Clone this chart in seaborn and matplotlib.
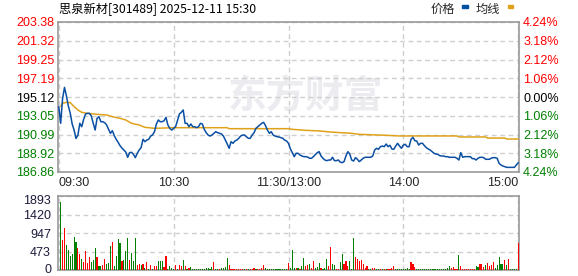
import matplotlib
matplotlib.use('Agg')
import matplotlib.pyplot as plt
from matplotlib.patches import Rectangle
from matplotlib.transforms import ScaledTranslation
import seaborn as sns
import pandas as pd

sns.set_theme(style='white')
plt.rcParams['font.family'] = ['Liberation Sans', 'Noto Sans CJK SC', 'DejaVu Sans']

# ---------------- data ----------------
title = '思泉新材[301489] 2025-12-11 15:30'
legend_labels = ['价格', '均线']
watermark = '东方财富'
price_ticks = [186.86, 188.92, 190.99, 193.05, 195.12, 197.19, 199.25, 201.32, 203.38]
pct_labels = ['4.24%', '3.18%', '2.12%', '1.06%', '0.00%', '1.06%', '2.12%', '3.18%', '4.24%']
vol_ticks = [0, 473, 947, 1420, 1893]
time_pos = [0, 60, 120, 180, 240]
time_labels = ['09:30', '10:30', '11:30/13:00', '14:00', '15:00']

price = [
    194.06, 192.22, 194.97, 196.18, 195.23, 194.13, 193.32, 192.15, 191.48, 190.55,
    190.93, 192.22, 191.85, 192.66, 193.25, 193.32, 193.32, 193.03, 192.22, 191.48,
    192.77, 192.95, 192.40, 192.40, 192.29, 192.04, 191.56, 191.12, 191.41, 190.86,
    190.46, 190.13, 189.76, 189.50, 189.28, 189.06, 188.48, 188.99, 189.03, 188.81,
    188.44, 188.92, 189.28, 189.54, 190.46, 190.20, 190.38, 190.46, 190.82, 190.95,
    191.30, 192.15, 192.59, 192.40, 192.40, 192.51, 192.88, 192.04, 191.67, 191.48,
    191.67, 191.85, 192.51, 193.25, 193.43, 193.69, 192.22, 192.22, 191.85, 192.15,
    191.85, 191.85, 191.74, 191.85, 192.22, 192.15, 191.56, 191.19, 190.93, 190.82,
    190.93, 191.12, 191.30, 191.19, 191.12, 191.05, 190.82, 190.38, 189.94, 189.47,
    190.20, 190.02, 190.27, 190.38, 190.57, 190.82, 190.93, 190.93, 190.75, 190.57,
    190.57, 190.93, 191.19, 191.67, 191.85, 192.04, 192.22, 192.33, 191.96, 191.48,
    191.12, 191.30, 190.93, 190.82, 190.75, 190.72, 190.64, 190.57, 190.38, 190.27,
    190.02, 189.39, 188.99, 188.55, 188.92, 188.92, 188.73, 188.62, 188.55, 188.55,
    188.51, 188.37, 188.37, 188.55, 188.77, 188.99, 189.10, 188.62, 188.37, 188.18,
    188.11, 188.18, 188.18, 188.48, 188.11, 188.11, 188.18, 187.96, 187.89, 188.00,
    188.62, 189.10, 188.84, 188.18, 188.07, 188.44, 188.26, 188.00, 188.18, 188.37,
    188.48, 188.48, 188.48, 188.48, 188.62, 189.28, 189.47, 189.36, 189.65, 189.72,
    189.65, 189.94, 189.65, 189.80, 189.39, 189.36, 189.72, 190.02, 189.72, 189.47,
    189.83, 189.91, 189.65, 189.65, 190.46, 190.68, 190.31, 190.27, 189.83, 190.02,
    190.02, 189.76, 189.54, 189.39, 189.28, 189.10, 188.92, 188.84, 188.81, 188.66,
    188.62, 188.62, 188.55, 188.55, 188.48, 188.48, 188.48, 188.48, 188.37, 188.18,
    188.99, 188.48, 188.55, 188.55, 188.55, 188.55, 188.33, 188.33, 188.18, 188.37,
    188.48, 188.48, 188.44, 188.26, 188.26, 188.26, 188.40, 188.44, 188.44, 188.37,
    187.81, 187.63, 187.52, 187.44, 187.37, 187.37, 187.37, 187.37, 187.37, 187.63,
    187.89,
]
price_minutes = list(range(len(price)))

avg_minutes = [1, 2, 4, 6, 8, 10, 12, 15, 20, 25, 28, 32, 35, 38, 42, 45, 50, 60, 88, 89,
               120, 122, 129, 136, 142, 153, 157, 171, 178, 208, 209, 223, 224, 233, 234, 240]
avg_values = [194.06, 194.42, 194.53, 194.50, 194.06, 193.69, 193.43, 193.32, 193.21, 193.14,
              192.95, 192.77, 192.59, 192.22, 192.04, 191.78, 191.67, 191.74, 191.74, 191.63,
              191.63, 191.56, 191.45, 191.38, 191.26, 191.12, 191.01, 190.90, 190.83, 190.83,
              190.72, 190.72, 190.60, 190.60, 190.49, 190.49]

volume = [
    1740, 767, 1083, 640, 512, 367, 418, 844, 716, 563,
    409, 281, 213, 486, 188, 333, 213, 256, 563, 333,
    102, 102, 128, 281, 153, 179, 622, 716, 102, 358,
    793, 691, 230, 256, 486, 819, 256, 435, 230, 819,
    128, 153, 128, 153, 51, 205, 26, 128, 26, 102,
    102, 230, 230, 230, 77, 358, 43, 102, 68, 26,
    128, 26, 128, 110, 256, 102, 26, 51, 77, 26,
    26, 26, 34, 26, 26, 26, 51, 51, 26, 77,
    205, 26, 26, 26, 51, 51, 77, 307, 128, 26,
    26, 26, 26, 26, 26, 26, 26, 26, 26, 26,
    26, 51, 26, 26, 26, 51, 128, 51, 26, 26,
    26, 26, 26, 26, 26, 26, 26, 26, 26, 179,
    51, 512, 68, 68, 51, 26, 110, 307, 102, 128,
    153, 51, 230, 51, 85, 179, 51, 26, 51, 281,
    110, 590, 155, 128, 26, 26, 205, 410, 155, 235,
    110, 235, 26, 820, 335, 285, 238, 260, 155, 60,
    110, 26, 26, 60, 60, 26, 26, 26, 26, 26,
    26, 26, 26, 51, 110, 26, 26, 26, 26, 26,
    26, 51, 26, 205, 153, 77, 26, 26, 26, 26,
    26, 26, 26, 26, 26, 26, 26, 26, 26, 26,
    26, 26, 51, 102, 68, 77, 26, 26, 384, 102,
    26, 26, 26, 26, 26, 26, 26, 102, 77, 153,
    153, 77, 128, 179, 102, 128, 205, 51, 128, 333,
    153, 153, 256, 128, 281, 26, 26, 26, 26, 691,
]
vol_dir = list(
    "GRRGGGGGGR" "RGRRRRGGGR" "GGRRGGGRGG" "GGRGGGRGGG" "RRGRGRGRGR" "RGGGRRGGGG"
    "RGRRGRGRGG" "GGGGGGGGGG" "RGGRGGGGRR" "RRRRRRGRGR" "RRGRRRRGGG" "GGGGGGGGGR"
    "GGGRGRGGRR" "GRRGGGRGGG" "RRGGRRGGRR" "RGGGRRRRRR" "RGGRRGGRGR" "GRRRRGGGGG"
    "GGGRRRGGGG" "GGGGGGGGGG" "GGGGRRRRGR" "RRRRRRRGGR" "RRGRRRRGGG" "GGRGRGGGGR"
)
vol_minutes = list(range(1, len(volume) + 1))

# ---------------- style ----------------
RED = '#ff0000'
GREEN = '#008000'
BLUE = '#0a4fa3'
GOLD = '#e0a21a'
GRID = '#cfcfcf'
SPINE = '#999999'

W, H = 578, 276
fig = plt.figure(figsize=(W / 100, H / 100), dpi=100)
fig.patch.set_facecolor('white')

def fx(px):
    return px / W

def fy(py):
    return 1 - py / H

ax = fig.add_axes([fx(58), fy(172), fx(519) - fx(58), fy(22) - fy(172)])
axv = fig.add_axes([fx(58), fy(270.3), fx(519) - fx(58), fy(196) - fy(270.3)])

xmin, xmax = -0.4, 240.4

# watermark
ax.text(0.537, 0.5, watermark, transform=ax.transAxes, fontsize=28, fontweight='bold',
        color='#ececf0', ha='center', va='center', zorder=0,
        family=['Noto Sans CJK SC'])

df_price = pd.DataFrame({'minute': price_minutes, 'price': price})
df_avg = pd.DataFrame({'minute': avg_minutes, 'avg': avg_values})
sns.lineplot(data=df_avg, x='minute', y='avg', ax=ax, color=GOLD, linewidth=1.1,
             estimator=None, zorder=3)
sns.lineplot(data=df_price, x='minute', y='price', ax=ax, color=BLUE, linewidth=1.1,
             estimator=None, zorder=4)

ax.set_xlim(xmin, xmax)
ax.set_ylim(price_ticks[0], price_ticks[-1])
ax.set_yticks(price_ticks)
ax.set_yticklabels([f'{v:.2f}' for v in price_ticks])
ax.set_xticks(time_pos)
ax.set_xticklabels(time_labels)
ax.set_xlabel('')
ax.set_ylabel('')
ax.tick_params(axis='both', length=0, labelsize=9)
ax.tick_params(axis='y', pad=2.5)
ax.tick_params(axis='x', pad=3.5)
ax.grid(True, color=GRID, linestyle=(0, (3.5, 2.5)), linewidth=1)
for sp in ax.spines.values():
    sp.set_color(SPINE)
    sp.set_linewidth(1.2)

mid = 4
for i, lab in enumerate(ax.get_yticklabels()):
    lab.set_color(RED if i > mid else ('#000000' if i == mid else GREEN))
xl = ax.get_xticklabels()
xl[0].set_ha('left')
xl[-1].set_ha('right')

ax2 = ax.twinx()
ax2.set_ylim(price_ticks[0], price_ticks[-1])
ax2.set_yticks(price_ticks)
ax2.set_yticklabels(pct_labels)
ax2.tick_params(axis='y', length=0, labelsize=9, pad=3)
ax2.grid(False)
for sp in ax2.spines.values():
    sp.set_visible(False)
for i, lab in enumerate(ax2.get_yticklabels()):
    lab.set_color(RED if i > mid else ('#000000' if i == mid else GREEN))

# volume
bar_colors = [RED if d == 'R' else GREEN for d in vol_dir]
axv.bar(vol_minutes, volume, width=0.6, color=bar_colors, linewidth=0, zorder=3)
axv.set_xlim(xmin, xmax)
axv.set_ylim(0, vol_ticks[-1])
axv.set_yticks(vol_ticks)
axv.set_yticklabels([str(v) for v in vol_ticks])
axv.set_xticks(time_pos)
axv.set_xticklabels([])
axv.tick_params(axis='both', length=0, labelsize=9)
axv.tick_params(axis='y', pad=5, colors='#1c1c3c')
axv.grid(True, color=GRID, linestyle=(0, (3.5, 2.5)), linewidth=1)
for sp in axv.spines.values():
    sp.set_color(SPINE)
    sp.set_linewidth(1.2)
vlabs = axv.get_yticklabels()
vlabs[0].set_va('center_baseline')
vlabs[0].set_transform(vlabs[0].get_transform() + ScaledTranslation(0, 1.5 / 72, fig.dpi_scale_trans))
vlabs[-1].set_transform(vlabs[-1].get_transform() + ScaledTranslation(0, -2.5 / 72, fig.dpi_scale_trans))

# title and legend
fig.text(fx(59), fy(9), title, fontsize=8.8, va='center', ha='left', color='#000000',
         family=['Noto Sans CJK SC', 'DejaVu Sans'])
fig.text(fx(431), fy(9), legend_labels[0], fontsize=8.8, va='center', ha='left',
         family=['Noto Sans CJK SC'])
fig.text(fx(476), fy(9), legend_labels[1], fontsize=8.8, va='center', ha='left',
         family=['Noto Sans CJK SC'])
fig.patches.append(Rectangle((fx(462), fy(8)), fx(6), 3 / H, transform=fig.transFigure,
                             color='#0050a0', figure=fig))
fig.patches.append(Rectangle((fx(508), fy(8)), fx(5), 3 / H, transform=fig.transFigure,
                             color=GOLD, figure=fig))

fig.savefig('out.png', dpi=100, facecolor='white')
